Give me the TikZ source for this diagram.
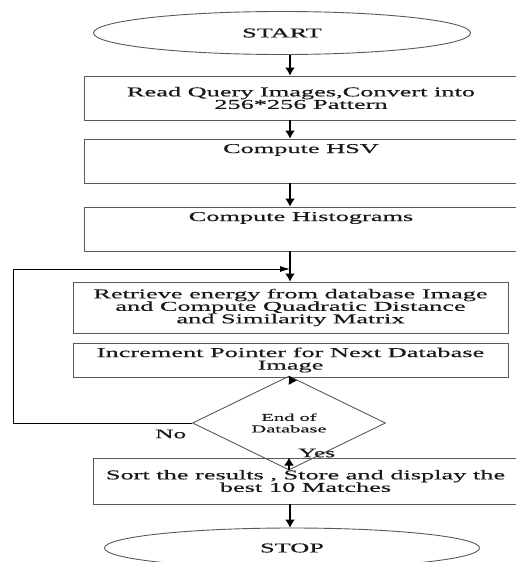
\documentclass[tikz,border=0pt]{standalone}
\usepackage{fontspec}
\newfontfamily\flowfont[FakeStretch=1.95,FakeBold=0.5]{Liberation Serif}
\usepackage{tikz}
\usetikzlibrary{shapes,arrows,arrows.meta}
\tikzstyle{block} = [draw=black!65, line width=0.9pt, rectangle, align=center,
    inner sep=3pt, text=black!90, font=\flowfont\fontsize{13.5}{12.5}\selectfont]
\tikzstyle{tallblock} = [block, text height=11pt, text depth=27pt]
\tikzstyle{terminal} = [draw=black!65, line width=0.9pt, ellipse, text=black!90,
    font=\flowfont\fontsize{13.5}{12.5}\selectfont]
\tikzstyle{decision} = [draw=black!65, line width=0.9pt, diamond, inner sep=0pt,
    align=center, text=black!90, font=\flowfont\fontsize{10.5}{11.5}\selectfont]
\tikzstyle{tag} = [text=black!90, inner sep=0pt, font=\flowfont\fontsize{13}{13}\selectfont]
\tikzstyle{line} = [draw, line width=1.5pt, -{Latex[length=8pt,width=10pt]}]
\tikzstyle{back} = [draw, line width=0.9pt, -{Latex[length=10pt,width=6pt]}]

\begin{document}
\begin{tikzpicture}[x=1pt, y=-1pt]
\useasboundingbox (0,0) rectangle (515,562);

\node [terminal, minimum width=377pt, minimum height=43pt] (start) at (282,33) {START};
\node [block, below of=start, node distance=65pt, xshift=19pt,
    minimum width=434pt, minimum height=44pt] (read)
    {Read Query Images,Convert into\\256*256 Pattern};
\node [tallblock, below of=read, node distance=63pt,
    minimum width=434pt, minimum height=44pt] (hsv) {Compute HSV};
\node [tallblock, below of=hsv, node distance=68pt,
    minimum width=434pt, minimum height=44pt] (hist) {Compute Histograms};
\node [block, below of=hist, node distance=78.5pt, xshift=-10.5pt,
    minimum width=435pt, minimum height=51pt] (retrieve)
    {Retrieve energy from database Image\\and Compute Quadratic\enspace Distance\\and Similarity Matrix};
\node [block, below of=retrieve, node distance=52.5pt,
    minimum width=435pt, minimum height=34pt] (incr)
    {Increment Pointer for Next Database\\Image};
\node [decision, below of=incr, node distance=63pt, xshift=-1.5pt,
    minimum width=193pt, minimum height=48pt] (enddb) {End of\\Database};
\node [block, below of=enddb, node distance=58pt, xshift=16.5pt,
    minimum width=425pt, minimum height=46pt] (sort)
    {Sort the results , Store and display the\\best\enspace 10 Matches};
\node [terminal, below of=sort, node distance=67pt, xshift=-13.5pt,
    minimum width=375pt, minimum height=40pt] (stop) {STOP};

\coordinate (spine) at (290,0);
\coordinate (corner) at (13,0);
\coordinate (merge) at (290,269);

\path [line] (start.south -| spine) -- (read.north -| spine);
\path [line] (read.south -| spine) -- (hsv.north -| spine);
\path [line] (hsv.south -| spine) -- (hist.north -| spine);
\path [line] (hist.south -| spine) -- (retrieve.north -| spine);
\path [line] (incr.south -| spine) -- (enddb.north);
\path [line] (enddb.south) -- (sort.north -| enddb.south);
\path [line] (sort.south -| spine) -- (stop.north -| spine);
\path [back] (enddb.west) -| (corner |- merge) -- (merge);

\node [tag, anchor=west] (no) at (155,434) {No};
\node [tag, anchor=west] (yes) at (298,453) {Yes};

\end{tikzpicture}
\end{document}
